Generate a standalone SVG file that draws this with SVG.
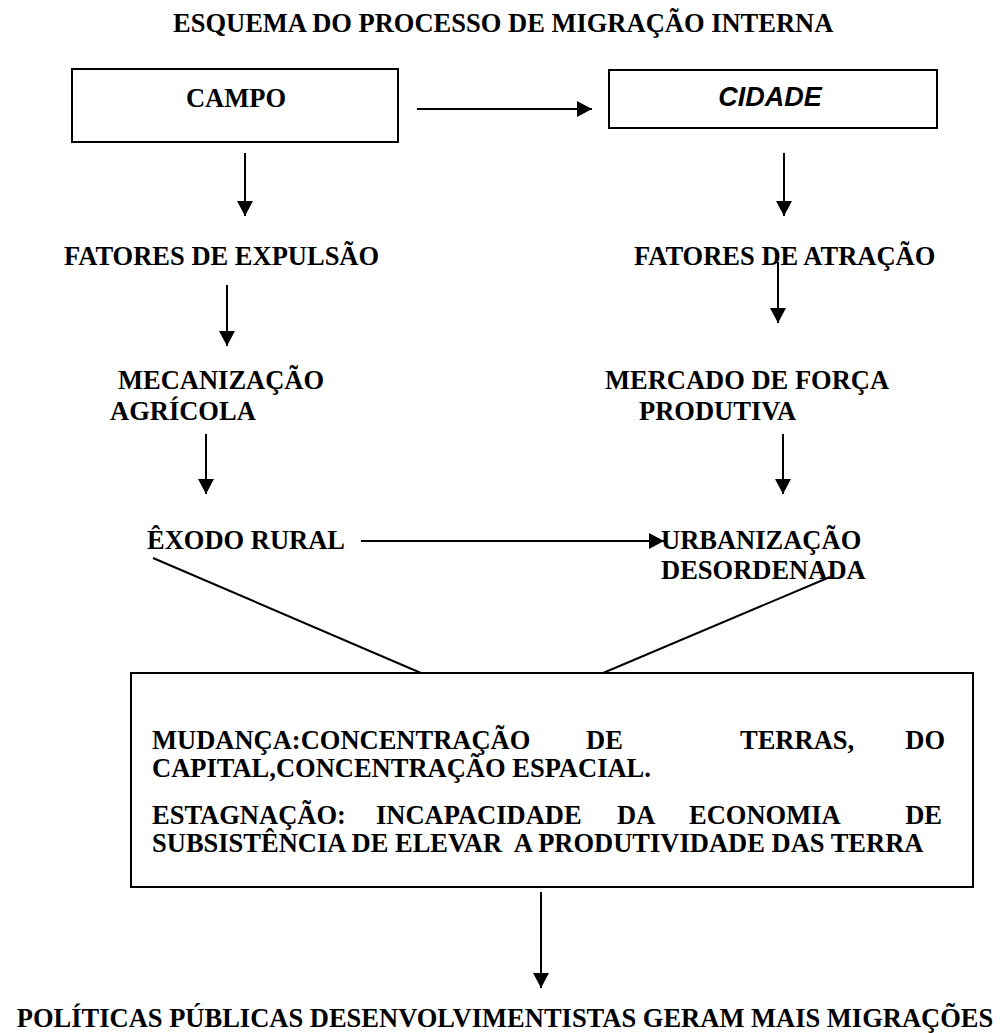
<svg xmlns="http://www.w3.org/2000/svg" width="1000" height="1033" viewBox="0 0 1000 1033">
<defs>
<marker id="ah" markerWidth="16" markerHeight="16" refX="15" refY="8" orient="auto" markerUnits="userSpaceOnUse">
<path d="M0,0 L15,8 L0,16 Z" fill="#000"/>
</marker>
<style>
.t{font-family:"Liberation Serif","Times New Roman",serif;font-weight:bold;font-size:26.5px;fill:#000}
.s{font-family:"Liberation Sans",Arial,sans-serif;font-weight:bold;font-style:italic;font-size:27px;fill:#000}
.box{fill:#fff;stroke:#000;stroke-width:2}
.c{stroke:#000;stroke-width:2;fill:none}
.a{stroke:#000;stroke-width:2;fill:none;marker-end:url(#ah)}
</style>
</defs>
<rect width="1000" height="1033" fill="#fff"/>
<text class="t" x="173" y="32">ESQUEMA DO PROCESSO DE MIGRAÇÃO INTERNA</text>
<g id="connectors">
<line class="a" x1="417" y1="109" x2="592" y2="109"/>
<line class="a" x1="245" y1="153" x2="245" y2="216"/>
<line class="a" x1="784" y1="153" x2="784" y2="216"/>
<line class="a" x1="227" y1="285" x2="227" y2="346"/>
<line class="a" x1="778" y1="262" x2="778" y2="323"/>
<line class="a" x1="206" y1="434" x2="206" y2="494"/>
<line class="a" x1="783" y1="434" x2="783" y2="494"/>
<line class="a" x1="361" y1="541" x2="664" y2="541"/>
<line class="c" x1="153" y1="558" x2="421" y2="673"/>
<line class="c" x1="830" y1="577" x2="603" y2="673"/>
<line class="a" x1="541" y1="892" x2="541" y2="988"/>
</g>
<g id="campo">
<rect class="box" x="72" y="69" width="326" height="73"/>
<text class="t" x="236" y="107" text-anchor="middle">CAMPO</text>
</g>
<g id="cidade">
<rect class="box" x="609" y="70" width="328" height="58"/>
<text class="s" x="770" y="106" text-anchor="middle">CIDADE</text>
</g>
<g id="expulsao"><text class="t" x="64" y="265">FATORES DE EXPULSÃO</text></g>
<g id="atracao"><text class="t" x="634" y="265">FATORES DE ATRAÇÃO</text></g>
<g id="mecanizacao">
<text class="t" x="118" y="389">MECANIZAÇÃO</text>
<text class="t" x="110" y="420">AGRÍCOLA</text>
</g>
<g id="mercado">
<text class="t" x="605" y="389">MERCADO DE FORÇA</text>
<text class="t" x="639" y="420">PRODUTIVA</text>
</g>
<g id="exodo"><text class="t" x="147" y="549">ÊXODO RURAL</text></g>
<g id="urbanizacao">
<text class="t" x="661" y="549">URBANIZAÇÃO</text>
<text class="t" x="661" y="579">DESORDENADA</text>
</g>
<g id="mudanca">
<rect class="box" x="131" y="673" width="842" height="214"/>
<text class="t" y="749"><tspan x="152">MUDANÇA:CONCENTRAÇÃO</tspan><tspan x="586">DE</tspan><tspan x="740">TERRAS,</tspan><tspan x="945" text-anchor="end">DO</tspan></text>
<text class="t" x="152" y="777">CAPITAL,CONCENTRAÇÃO ESPACIAL.</text>
<text class="t" y="824"><tspan x="152">ESTAGNAÇÃO:</tspan><tspan x="376">INCAPACIDADE</tspan><tspan x="617">DA</tspan><tspan x="689">ECONOMIA</tspan><tspan x="942" text-anchor="end">DE</tspan></text>
<text class="t" x="152" y="852" xml:space="preserve">SUBSISTÊNCIA DE ELEVAR  A PRODUTIVIDADE DAS TERRA</text>
</g>
<g id="politicas"><text class="t" x="505" y="1027" text-anchor="middle">POLÍTICAS PÚBLICAS DESENVOLVIMENTISTAS GERAM MAIS MIGRAÇÕES</text></g>
</svg>
